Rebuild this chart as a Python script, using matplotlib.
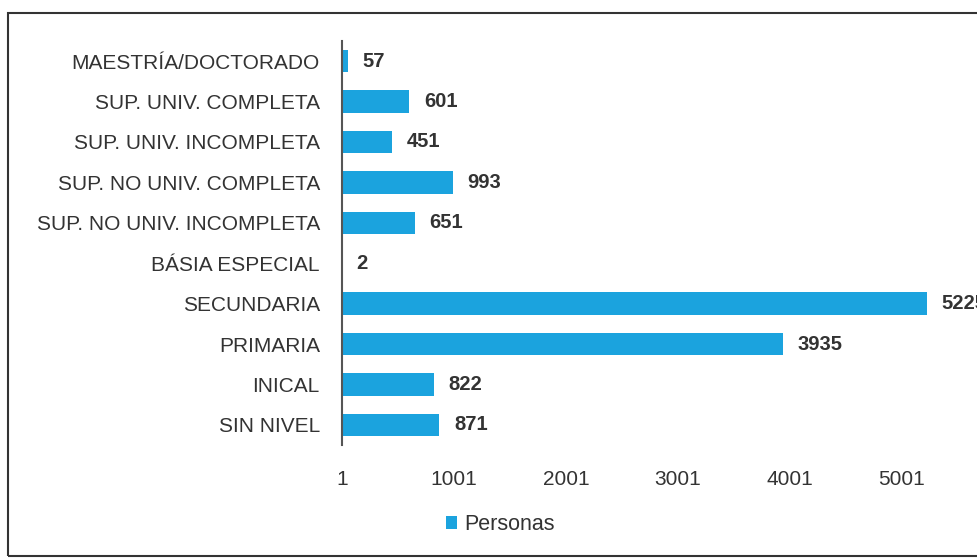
import matplotlib.pyplot as plt
import matplotlib.patches as mpatches

niveles = ["SIN NIVEL", "INICAL", "PRIMARIA", "SECUNDARIA", "BÁSIA ESPECIAL",
           "SUP. NO UNIV. INCOMPLETA", "SUP. NO UNIV. COMPLETA",
           "SUP. UNIV. INCOMPLETA", "SUP. UNIV. COMPLETA", "MAESTRÍA/DOCTORADO"]
personas = [871, 822, 3935, 5225, 2, 651, 993, 451, 601, 57]
xticks = [1, 1001, 2001, 3001, 4001, 5001]

plt.rcParams['font.family'] = ['Liberation Sans', 'DejaVu Sans']
color_bar = "#1ba3de"
color_txt = "#333333"

fig = plt.figure(figsize=(9.77, 5.59), dpi=100)
ax = fig.add_axes([342 / 977, 1 - 445 / 559, 672 / 977, 404 / 559])

pos = list(range(len(niveles)))
ax.barh(pos, [p - 1 for p in personas], left=1, height=0.55, color=color_bar,
        label="Personas")
for y, v in zip(pos, personas):
    ax.text(v + 130, y, str(v), va="center", ha="left", fontsize=14.5,
            fontweight="bold", color=color_txt)

ax.set_xlim(1, 6001)
ax.set_ylim(-0.5, len(niveles) - 0.5)
ax.set_yticks(pos)
ax.set_yticklabels(niveles, fontsize=15, color=color_txt)
ax.set_xticks(xticks)
ax.set_xticklabels([str(t) for t in xticks], fontsize=15, color=color_txt)
ax.tick_params(axis="both", length=0)
ax.tick_params(axis="y", pad=16)
ax.tick_params(axis="x", pad=18)
for s in ["top", "right", "bottom"]:
    ax.spines[s].set_visible(False)
ax.spines["left"].set_color("#555555")
ax.spines["left"].set_linewidth(1.5)

fig.legend(loc="center", bbox_to_anchor=(500 / 977, 1 - 525 / 559), frameon=False,
           fontsize=15.5, handlelength=0.55, handleheight=0.55, handletextpad=0.3,
           labelcolor=color_txt)

# marco alrededor del gráfico
fig.patches.append(mpatches.Rectangle((8 / 977, 3 / 559), 1.0, 1 - 16 / 559,
                                      transform=fig.transFigure, fill=False,
                                      edgecolor="#333333", linewidth=1.5))

fig.savefig("out.png", dpi=100)
